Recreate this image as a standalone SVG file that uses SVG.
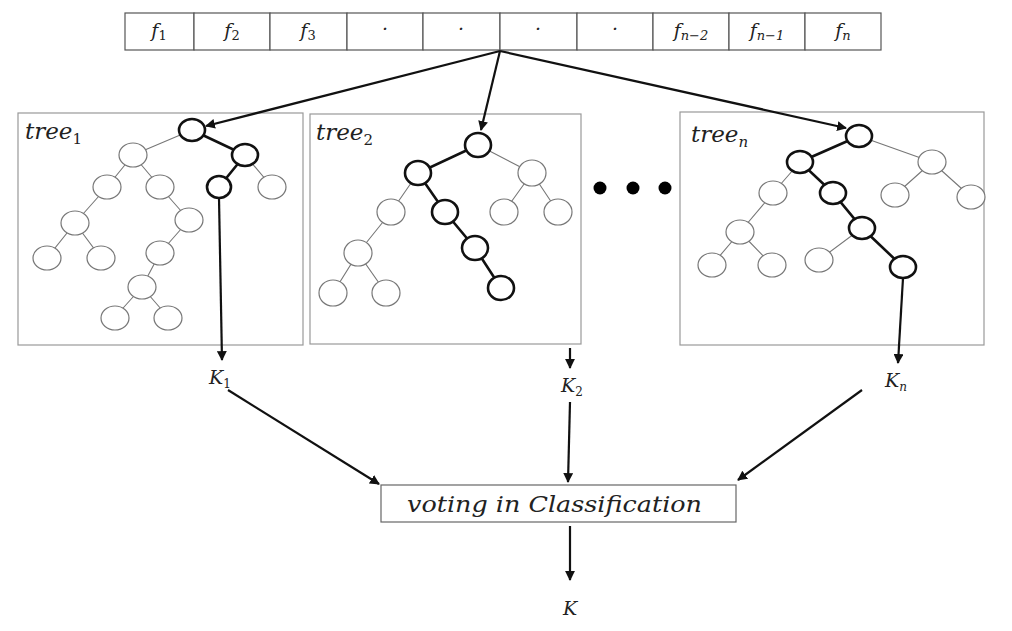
<svg xmlns="http://www.w3.org/2000/svg" width="1012" height="631" viewBox="0 0 1012 631">
<style>
.bg{fill:#fff}
.box{fill:#fff;stroke:#999;stroke-width:1.2}
.cell{fill:#fff;stroke:#555;stroke-width:1.2}
.n{fill:#fff;stroke:#777;stroke-width:1.2}
.nb{fill:#fff;stroke:#111;stroke-width:2.6}
.e{stroke:#777;stroke-width:1.1;fill:none}
.eb{stroke:#111;stroke-width:2.6;fill:none}
.c{stroke:#111;stroke-width:2.2;fill:none;marker-end:url(#ah)}
.t{font-family:"DejaVu Serif","Liberation Serif",serif;font-style:italic;fill:#222}
.f{font-size:19px;text-anchor:middle}
.lbl{font-size:23px}
.k{font-size:19px;text-anchor:middle}
.dot{fill:#000}
</style>
<defs>
<marker id="ah" viewBox="0 0 10 10" refX="9" refY="5" markerWidth="4.5" markerHeight="4.5" orient="auto" markerUnits="strokeWidth">
<path d="M0,0 L10,5 L0,10 z" fill="#111"/>
</marker>
</defs>
<rect class="bg" width="1012" height="631"/>

<g id="features">
<rect class="cell" x="125" y="13" width="69" height="37"/>
<rect class="cell" x="194" y="13" width="76" height="37"/>
<rect class="cell" x="270" y="13" width="77" height="37"/>
<rect class="cell" x="347" y="13" width="76" height="37"/>
<rect class="cell" x="423" y="13" width="77" height="37"/>
<rect class="cell" x="500" y="13" width="77" height="37"/>
<rect class="cell" x="577" y="13" width="76" height="37"/>
<rect class="cell" x="653" y="13" width="76" height="37"/>
<rect class="cell" x="729" y="13" width="76" height="37"/>
<rect class="cell" x="805" y="13" width="76" height="37"/>
<text class="t f" x="159" y="37">f<tspan font-size="13" font-style="normal" dy="3">1</tspan></text>
<text class="t f" x="232" y="37">f<tspan font-size="13" font-style="normal" dy="3">2</tspan></text>
<text class="t f" x="308" y="37">f<tspan font-size="13" font-style="normal" dy="3">3</tspan></text>
<text class="t f" x="385" y="35">·</text>
<text class="t f" x="461" y="35">·</text>
<text class="t f" x="538" y="35">·</text>
<text class="t f" x="615" y="35">·</text>
<text class="t f" x="691" y="37">f<tspan font-size="13" dy="3">n−2</tspan></text>
<text class="t f" x="767" y="37">f<tspan font-size="13" dy="3">n−1</tspan></text>
<text class="t f" x="843" y="37">f<tspan font-size="13" dy="3">n</tspan></text>
</g>

<g id="tree1">
<rect class="box" x="18" y="113" width="285" height="232"/>
<text class="t lbl" x="25" y="139">tree<tspan font-size="15" font-style="normal" dy="5">1</tspan></text>
<path class="e" d="M192,130 L133,155 M245,155 L272,187 M133,155 L107,187 M133,155 L160,187 M107,187 L75,223 M75,223 L47,258 M75,223 L101,258 M160,187 L189,220 M189,220 L160,253 M160,253 L142,287 M142,287 L115,317 M142,287 L168,317"/>
<path class="eb" d="M192,130 L245,155 L219,187"/>
<ellipse class="n" cx="133" cy="155" rx="14" ry="12"/>
<ellipse class="n" cx="107" cy="187" rx="14" ry="12"/>
<ellipse class="n" cx="160" cy="187" rx="14" ry="12"/>
<ellipse class="n" cx="272" cy="187" rx="14" ry="12"/>
<ellipse class="n" cx="75" cy="223" rx="14" ry="12"/>
<ellipse class="n" cx="189" cy="220" rx="14" ry="12"/>
<ellipse class="n" cx="47" cy="258" rx="14" ry="12"/>
<ellipse class="n" cx="101" cy="258" rx="14" ry="12"/>
<ellipse class="n" cx="160" cy="253" rx="14" ry="12"/>
<ellipse class="n" cx="142" cy="287" rx="14" ry="12"/>
<ellipse class="n" cx="115" cy="318" rx="14" ry="12"/>
<ellipse class="n" cx="168" cy="318" rx="14" ry="12"/>
<ellipse class="nb" cx="192" cy="130" rx="13" ry="11"/>
<ellipse class="nb" cx="245" cy="155" rx="13" ry="11"/>
<ellipse class="nb" cx="219" cy="187" rx="12" ry="11"/>
</g>

<g id="tree2">
<rect class="box" x="310" y="114" width="271" height="230"/>
<text class="t lbl" x="316" y="140">tree<tspan font-size="15" font-style="normal" dy="5">2</tspan></text>
<path class="e" d="M478,145 L532,173 M418,173 L391,212 M532,173 L504,212 M532,173 L558,212 M391,212 L358,253 M358,253 L333,293 M358,253 L386,293"/>
<path class="eb" d="M478,145 L418,173 L445,212 L475,248 L501,288"/>
<ellipse class="n" cx="532" cy="173" rx="14" ry="13"/>
<ellipse class="n" cx="391" cy="212" rx="14" ry="13"/>
<ellipse class="n" cx="504" cy="212" rx="14" ry="13"/>
<ellipse class="n" cx="558" cy="212" rx="14" ry="13"/>
<ellipse class="n" cx="358" cy="253" rx="14" ry="13"/>
<ellipse class="n" cx="333" cy="293" rx="14" ry="13"/>
<ellipse class="n" cx="386" cy="293" rx="14" ry="13"/>
<ellipse class="nb" cx="478" cy="145" rx="13" ry="12"/>
<ellipse class="nb" cx="418" cy="173" rx="13" ry="12"/>
<ellipse class="nb" cx="445" cy="212" rx="13" ry="12"/>
<ellipse class="nb" cx="475" cy="248" rx="13" ry="12"/>
<ellipse class="nb" cx="501" cy="288" rx="13" ry="12"/>
</g>

<g id="ellipsis">
<circle class="dot" cx="600" cy="188" r="6.5"/>
<circle class="dot" cx="633" cy="188" r="6.5"/>
<circle class="dot" cx="665" cy="188" r="6.5"/>
</g>

<g id="treen">
<rect class="box" x="680" y="112" width="304" height="233"/>
<text class="t lbl" x="691" y="142">tree<tspan font-size="15" dy="5">n</tspan></text>
<path class="e" d="M859,136 L932,162 M800,162 L773,193 M932,162 L895,195 M932,162 L971,197 M773,193 L740,232 M740,232 L712,265 M740,232 L772,265 M862,228 L819,260"/>
<path class="eb" d="M859,136 L800,162 L833,193 L862,228 L903,267"/>
<ellipse class="n" cx="932" cy="162" rx="14" ry="12"/>
<ellipse class="n" cx="773" cy="193" rx="14" ry="12"/>
<ellipse class="n" cx="895" cy="195" rx="14" ry="12"/>
<ellipse class="n" cx="971" cy="197" rx="14" ry="12"/>
<ellipse class="n" cx="740" cy="232" rx="14" ry="12"/>
<ellipse class="n" cx="712" cy="265" rx="14" ry="12"/>
<ellipse class="n" cx="772" cy="265" rx="14" ry="12"/>
<ellipse class="n" cx="819" cy="260" rx="14" ry="12"/>
<ellipse class="nb" cx="859" cy="136" rx="13" ry="11"/>
<ellipse class="nb" cx="800" cy="162" rx="13" ry="11"/>
<ellipse class="nb" cx="833" cy="193" rx="13" ry="11"/>
<ellipse class="nb" cx="862" cy="228" rx="13" ry="11"/>
<ellipse class="nb" cx="903" cy="267" rx="13" ry="11"/>
</g>

<g id="voting">
<rect class="box" x="381" y="485" width="355" height="37" style="stroke:#666"/>
<text class="t" x="407" y="512" font-size="23" textLength="295" lengthAdjust="spacingAndGlyphs">voting in Classification</text>
</g>

<g id="labels">
<text class="t k" x="220" y="384">K<tspan font-size="12" font-style="normal" dy="4">1</tspan></text>
<text class="t k" x="572" y="392">K<tspan font-size="12" font-style="normal" dy="4">2</tspan></text>
<text class="t k" x="896" y="387">K<tspan font-size="12" dy="4">n</tspan></text>
<text class="t k" x="570" y="615">K</text>
</g>

<g id="connectors">
<line class="c" x1="500" y1="51" x2="206" y2="126"/>
<line class="c" x1="500" y1="51" x2="481" y2="130"/>
<line class="c" x1="500" y1="51" x2="846" y2="128"/>
<line class="c" x1="219" y1="198" x2="222" y2="360"/>
<line class="c" x1="570" y1="348" x2="570" y2="368"/>
<line class="c" x1="903" y1="278" x2="898" y2="363"/>
<line class="c" x1="228" y1="390" x2="379" y2="484"/>
<line class="c" x1="570" y1="402" x2="568" y2="482"/>
<line class="c" x1="862" y1="390" x2="738" y2="480"/>
<line class="c" x1="570" y1="526" x2="570" y2="580"/>
</g>
</svg>
